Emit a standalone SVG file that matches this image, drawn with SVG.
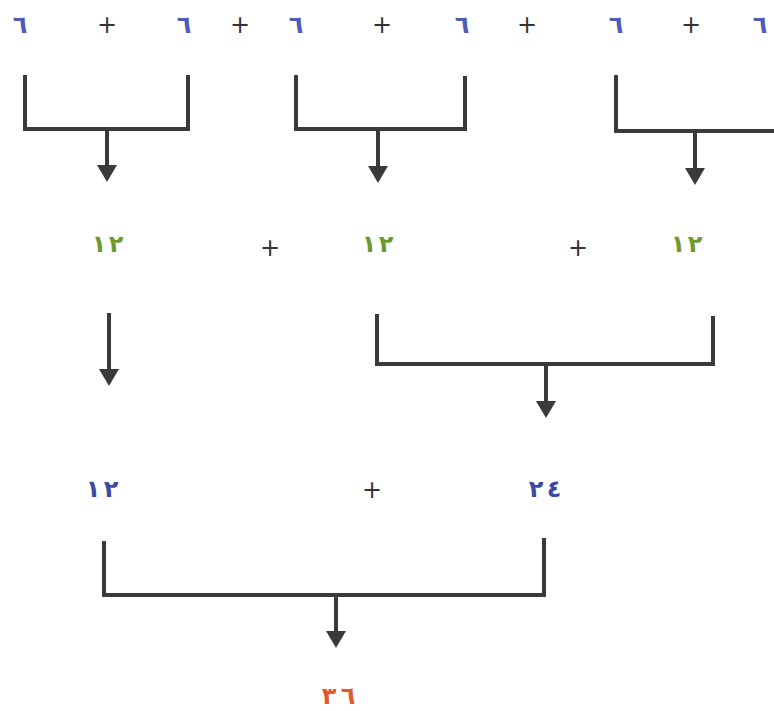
<svg xmlns="http://www.w3.org/2000/svg" width="774" height="711" viewBox="0 0 774 711">
<defs>
<style>
.n{font-family:"DejaVu Sans",sans-serif;font-size:24px;font-weight:bold;text-anchor:middle}
.b{fill:#4f5bb5}
.g{fill:#6e9a2c}
.d{fill:#3d4aa3}
.r{fill:#e2582c}
.p{font-family:"DejaVu Sans",sans-serif;font-size:24px;fill:#333;text-anchor:middle}
.c{fill:none;stroke:#3a3a3a;stroke-width:4;stroke-linejoin:miter}
.s{fill:none;stroke:#3a3a3a;stroke-width:4;marker-end:url(#ah)}
</style>
<marker id="ah" viewBox="0 0 17 20" markerWidth="17" markerHeight="20" refX="7" refY="10" orient="auto" markerUnits="userSpaceOnUse">
<path d="M0,0 L17,10 L0,20 Z" fill="#3a3a3a"/>
</marker>
</defs>
<rect width="774" height="711" fill="#fff"/>
<g id="row1">
<g id="n1"><text class="n b" x="20" y="33">٦</text></g>
<g id="p1"><text class="p" x="107" y="33">+</text></g>
<g id="n2"><text class="n b" x="184" y="33">٦</text></g>
<g id="p2"><text class="p" x="240" y="33">+</text></g>
<g id="n3"><text class="n b" x="296" y="33">٦</text></g>
<g id="p3"><text class="p" x="382" y="33">+</text></g>
<g id="n4"><text class="n b" x="462" y="33">٦</text></g>
<g id="p4"><text class="p" x="527" y="33">+</text></g>
<g id="n5"><text class="n b" x="616" y="33">٦</text></g>
<g id="p5"><text class="p" x="691" y="33">+</text></g>
<g id="n6"><text class="n b" x="760" y="33">٦</text></g>
</g>
<g id="row2">
<g id="m1"><text class="n g" y="252"><tspan x="99">١</tspan><tspan x="116">٢</tspan></text></g>
<g id="q1"><text class="p" x="270" y="256">+</text></g>
<g id="m2"><text class="n g" y="252"><tspan x="369">١</tspan><tspan x="386">٢</tspan></text></g>
<g id="q2"><text class="p" x="578" y="256">+</text></g>
<g id="m3"><text class="n g" y="252"><tspan x="678">١</tspan><tspan x="695">٢</tspan></text></g>
</g>
<g id="row3">
<g id="k1"><text class="n d" y="497"><tspan x="93">١</tspan><tspan x="111">٢</tspan></text></g>
<g id="r1"><text class="p" x="372" y="498">+</text></g>
<g id="k2"><text class="n d" y="497"><tspan x="536">٢</tspan><tspan x="554">٤</tspan></text></g>
</g>
<g id="result"><text class="n r" y="704"><tspan x="329">٣</tspan><tspan x="348">٦</tspan></text></g>
<g id="connectors">
<polyline class="c" points="25,75 25,129 188,129 188,75"/>
<line class="s" x1="107" y1="129" x2="107" y2="172"/>
<polyline class="c" points="296,75 296,129 465,129 465,76"/>
<line class="s" x1="378" y1="129" x2="378" y2="173"/>
<polyline class="c" points="616,75 616,131 776,131"/>
<line class="s" x1="695" y1="131" x2="695" y2="175"/>
<line class="s" x1="109" y1="313" x2="109" y2="376"/>
<polyline class="c" points="377,314 377,364 713,364 713,316"/>
<line class="s" x1="546" y1="364" x2="546" y2="408"/>
<polyline class="c" points="104,541 104,595 544,595 544,538"/>
<line class="s" x1="336" y1="595" x2="336" y2="638"/>
</g>
</svg>
